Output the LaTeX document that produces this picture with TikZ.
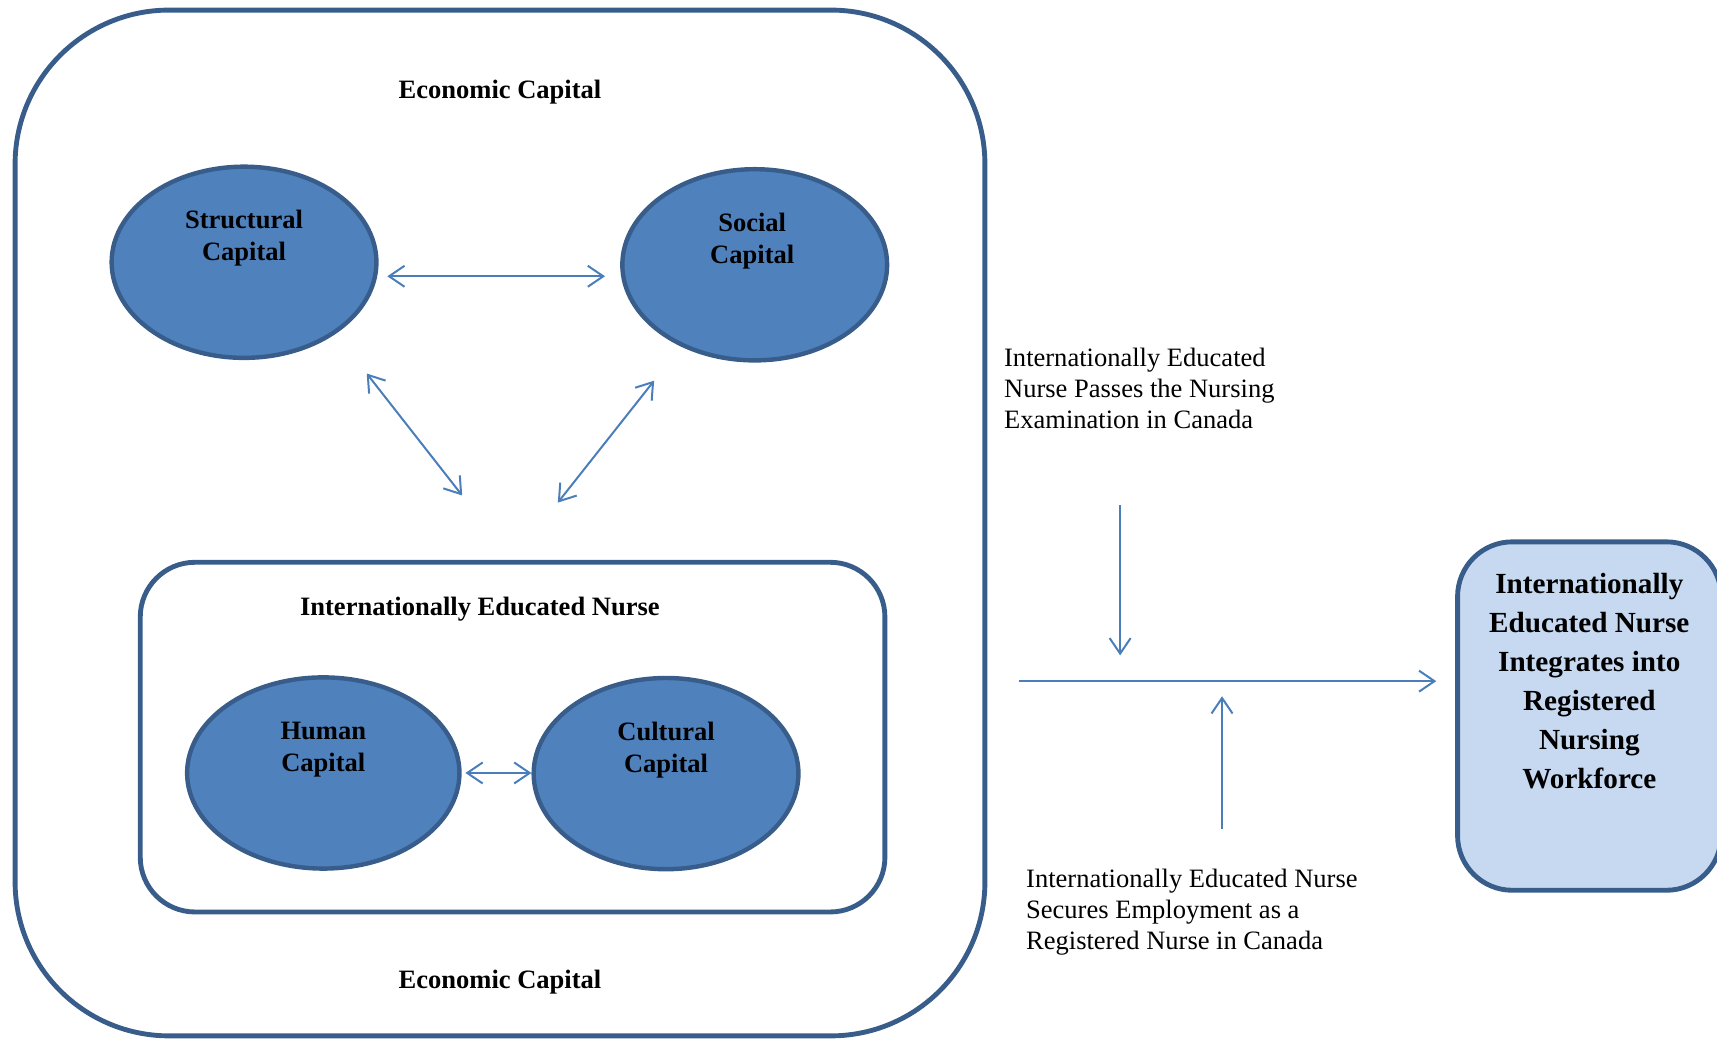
\documentclass[tikz,border=0pt]{standalone}
\usepackage{fontspec}
\setmainfont{Liberation Serif}
\usetikzlibrary{shapes.geometric,arrows.meta}

\definecolor{rim}{HTML}{385D8A}
\definecolor{capfill}{HTML}{4F81BD}
\definecolor{flow}{HTML}{4A7EBB}
\definecolor{goalfill}{HTML}{C6D9F1}

\begin{document}
\begin{tikzpicture}[font=\fontsize{12}{14}\selectfont, line width=0.9pt, >={Straight Barb[length=7pt,width=9.5pt]},
  frame/.style={draw=rim, line width=2.2pt, inner sep=0pt},
  capital/.style={ellipse, draw=rim, fill=capfill, line width=2pt, minimum width=4.21cm, minimum height=3.04cm, inner sep=0pt},
  boldtext/.style={align=center, inner sep=0pt, font=\fontsize{12}{14.4}\selectfont\bfseries},
  steptext/.style={align=left, inner sep=0pt, anchor=west},
  link/.style={draw=flow}]
  \useasboundingbox (0,0) rectangle (27.30,-16.536);

  % economic capital frame and the nurse box inside it
  \node[frame, rounded corners=2.45cm, minimum width=15.42cm, minimum height=16.31cm] (econ) at (7.95,-8.315) {};
  \node[boldtext] (econtop) at (7.95,-1.46) {Economic Capital};
  \node[boldtext] (econbot) at (7.95,-15.62) {Economic Capital};
  \node[frame, rounded corners=0.87cm, minimum width=11.84cm, minimum height=5.56cm] (nurse) at (8.15,-11.72) {};
  \node[boldtext] (nurselbl) at (7.63,-9.68) {Internationally Educated Nurse};

  % the four capitals
  \node[capital] (struct) at (3.88,-4.17) {};
  \node[boldtext] (structlbl) at (3.88,-3.78) {Structural\\Capital};
  \node[capital] (social) at (12.00,-4.21) {};
  \node[boldtext] (sociallbl) at (11.96,-3.83) {Social\\Capital};
  \node[capital, minimum width=4.33cm] (human) at (5.14,-12.29) {};
  \node[boldtext] (humanlbl) at (5.14,-11.92) {Human\\Capital};
  \node[capital] (cultural) at (10.59,-12.30) {};
  \node[boldtext] (culturallbl) at (10.59,-11.92) {Cultural\\Capital};

  \draw[link, <->, shorten <=0.16cm, shorten >=0.24cm] (struct.-6) -- (struct.-6 -| social.west);
  \draw[link, <->, shorten <=0.8cm, shorten >=1.3cm] (struct.-38) -- (nurse.north);
  \draw[link, <->, shorten <=0.69cm, shorten >=1.16cm] (social.228) -- (nurse.north);
  \draw[link, <->, shorten <=0.06cm] (human.east) -- (human.east -| cultural.west);

  % pathway into the workforce
  \node[frame, fill=goalfill, rounded corners=0.87cm, minimum width=4.19cm, minimum height=5.54cm] (goal) at (25.27,-11.385) {};
  \node[boldtext, font=\fontsize{13.2}{17.6}\selectfont\bfseries] (goallbl) at (25.27,-10.83) {Internationally\\Educated Nurse\\Integrates into\\Registered\\Nursing\\Workforce};
  \node[steptext] (pass) at (15.95,-6.17) {Internationally Educated\\Nurse Passes the Nursing\\Examination in Canada};
  \node[steptext] (secure) at (16.30,-14.50) {Internationally Educated Nurse\\Secures Employment as a\\Registered Nurse in Canada};

  \coordinate (flowstart) at (16.20,-10.83);
  \coordinate (joinA) at (17.81,-10.83);
  \coordinate (joinB) at (19.43,-10.83);
  \draw[link, ->, shorten >=0.30cm] (flowstart) -- (flowstart -| goal.west);
  \draw[link, ->, shorten <=1.2cm, shorten >=0.41cm] (pass.south -| joinA) -- (joinA);
  \draw[link, ->, shorten <=0.62cm, shorten >=0.24cm] (secure.north -| joinB) -- (joinB);
\end{tikzpicture}
\end{document}
